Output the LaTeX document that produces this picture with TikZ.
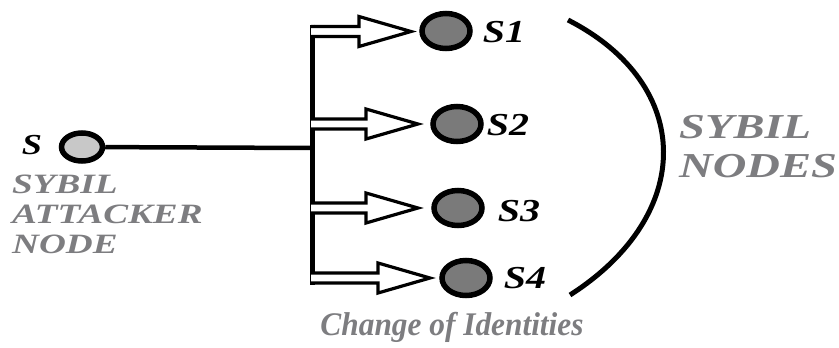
\documentclass[tikz,border=0pt]{standalone}
\usepackage{fontspec}
\setmainfont{Liberation Serif}
\newfontfamily\lblfont[FakeStretch=1.25]{Liberation Serif}
\newfontfamily\grayfont[FakeStretch=1.33]{Liberation Serif}
\newfontfamily\narrowfont[FakeStretch=0.95]{Liberation Serif}
\usetikzlibrary{shapes.geometric}
\definecolor{txtgray}{RGB}{125,125,128}
\definecolor{nodegray}{RGB}{122,122,122}
\definecolor{lightnode}{RGB}{200,200,200}
\tikzset{
  sybil/.style={ellipse, draw, line width=5.5pt, fill=nodegray, minimum width=48pt, minimum height=35pt, inner sep=0pt},
  attacker/.style={ellipse, draw, line width=5.5pt, fill=lightnode, minimum width=41pt, minimum height=28pt, inner sep=0pt},
  lbl/.style={font=\lblfont\bfseries\itshape\fontsize{32}{32}\selectfont, inner sep=0pt},
  graylbl/.style={text=txtgray, inner sep=0pt, align=left},
  hollow/.style={draw, line width=3.2pt, fill=white, line join=miter},
  trunk/.style={line width=4.5pt},
}
\begin{document}
\begin{tikzpicture}[x=1pt,y=-1pt]
\useasboundingbox (0,0) rectangle (839,348);
% nodes
\node[attacker] (s) at (82,147) {};
\node[sybil] (s1) at (446,31) {};
\node[sybil] (s2) at (457,124) {};
\node[sybil] (s3) at (458,208) {};
\node[sybil] (s4) at (466,278) {};
% labels
\node[lbl, font=\lblfont\bfseries\itshape\fontsize{29}{29}\selectfont] (ls) at (32,145) {S};
\node[lbl] (l1) at (504,32) {S1};
\node[lbl] (l2) at (508,125) {S2};
\node[lbl] (l3) at (519,211) {S3};
\node[lbl] (l4) at (525,278) {S4};
\node[graylbl, anchor=west, font=\grayfont\bfseries\itshape\fontsize{28}{30}\selectfont] (la) at (12,214) {SYBIL\\ATTACKER\\NODE};
\node[graylbl, anchor=west, font=\grayfont\bfseries\itshape\fontsize{35}{39}\selectfont] (ln) at (679,147) {SYBIL\\NODES};
\node[graylbl, font=\narrowfont\bfseries\itshape\fontsize{33}{33}\selectfont] (lc) at (452,327) {Change of Identities};
% trunk
\coordinate (j0) at (312,148);
\coordinate (jt) at (312,24.5);
\coordinate (jb) at (312,284.5);
\draw[trunk] (s) -- (j0);
\draw[line width=5pt] (jt) -- (jb);
% hollow arrows
\foreach \y/\t in {31.5/411, 124/418, 208/418, 278/430} {
  \draw[hollow] (311,\y-5) -- (\t-52,\y-5) -- (\t-52,\y-15) -- (\t,\y) -- (\t-52,\y+15) -- (\t-52,\y+5) -- (311,\y+5);
}
% bracket arc
\draw[line width=5pt] (568,20) .. controls (695,85) and (695,215) .. (570,295);
\end{tikzpicture}
\end{document}
